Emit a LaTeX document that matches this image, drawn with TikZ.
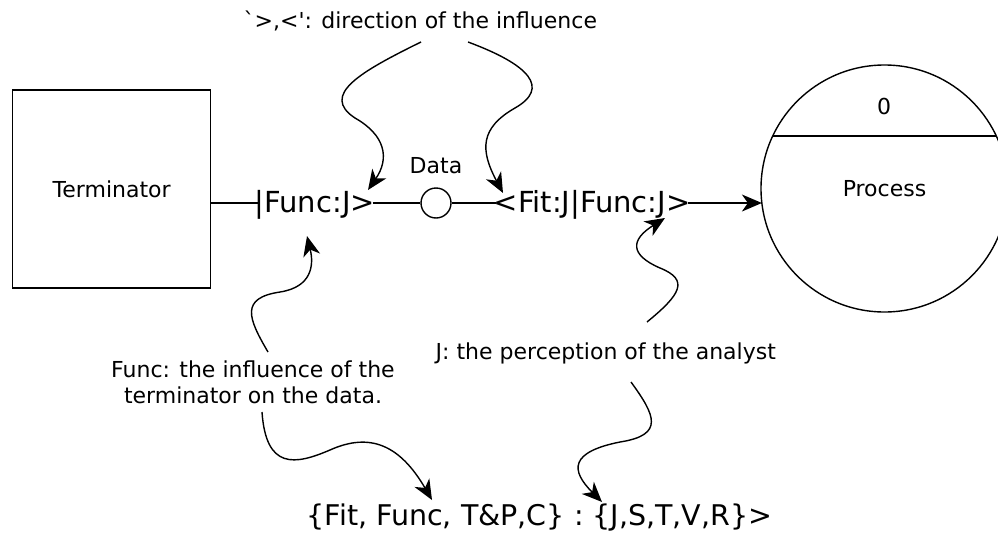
\documentclass[tikz,border=0pt]{standalone}
\usepackage{fontspec}
\setmainfont{DejaVu Sans}[Ligatures=TeXOff]
\usetikzlibrary{arrows.meta}
\tikzset{
  pointer/.style={arrows={-Stealth[length=20pt, width=17pt, inset=6pt]}},
  small/.style={font=\fontsize{22}{26}\selectfont, inner sep=0pt},
  big/.style={font=\fontsize{29}{33}\selectfont, inner sep=0pt},
  bottom/.style={font=\fontsize{28.5}{33}\selectfont, inner sep=0pt},
  wiggle/.style={pointer, line width=1.4pt},
}
\begin{document}
\begin{tikzpicture}[x=1pt, y=-1pt, line width=1.4pt]
\useasboundingbox (0,0) rectangle (998,541);
\clip (0,0) rectangle (998,541);

% terminator and process
\node[draw, small, minimum width=198pt, minimum height=198pt] (term) at (111.7,189) {Terminator};
\node[draw, circle, small, minimum size=247pt] (proc) at (884.5,188.5) {Process};
\draw ([shift={(-111.8,-52.5)}]proc.center) -- ([shift={(111.8,-52.5)}]proc.center);
\node[small] (num) at (884,106) {0};

% data flow with its influence labels
\node[draw, circle, minimum size=30pt, inner sep=0pt] (datac) at (436,203) {};
\node[small, anchor=base] (datal) at (436,173) {Data};
\node[big, anchor=base west] (func1) at (254,212) {|Func:J>};
\node[big, anchor=base west] (fit) at (493,212) {<Fit:J|Func:J>};
\coordinate (pin) at ([shift={(-122.6,14.5)}]proc.center);

\draw (term.east |- datac) -- ([xshift=4.5pt]func1.west |- datac);
\draw ([xshift=-3pt]func1.east |- datac) -- (datac.west);
\draw (datac.east) -- ([xshift=3pt]fit.west |- datac);
\draw[pointer] ([xshift=-3pt]fit.east |- datac) -- (pin);

% explanations
\node[small, anchor=base west] (toptxt) at (243,28) {`>,<': direction of the influence};
\node[small, align=center] (functxt) at (253,382.6) {Func: the influence of the\\terminator on the data.};
\node[small, anchor=base west] (jtxt) at (435,359) {J: the perception of the analyst};
\node[bottom, anchor=base east] (bottxt) at (773,525) {\{Fit, Func, T\&P,C\} : \{J,S,T,V,R\}>};

% wiggly pointers
\coordinate (a0) at (421,42);  \coordinate (a1) at (368,190);
\coordinate (b0) at (468,42);  \coordinate (b1) at (503,193);
\coordinate (c0) at (268,352); \coordinate (c1) at (307,236);
\coordinate (d0) at (262,412); \coordinate (d1) at (432,500);
\coordinate (e0) at (647,322); \coordinate (e1) at (665,218);
\coordinate (f0) at (631,382); \coordinate (f1) at (602,502);

\draw[wiggle] (a0) .. controls (360,72) and (320,95) .. (355,118)
                   .. controls (385,135) and (390,158) .. (a1);
\draw[wiggle] (b0) .. controls (530,65) and (550,88) .. (515,108)
                   .. controls (480,128) and (480,150) .. (b1);
\draw[wiggle] (c0) .. controls (248,318) and (240,298) .. (280,292)
                   .. controls (312,287) and (314,265) .. (c1);
\draw[wiggle] (d0) .. controls (266,470) and (295,465) .. (330,450)
                   .. controls (370,432) and (400,445) .. (d1);
\draw[wiggle] (e0) .. controls (680,295) and (690,280) .. (660,268)
                   .. controls (630,255) and (630,240) .. (e1);
\draw[wiggle] (f0) .. controls (655,415) and (665,435) .. (620,442)
                   .. controls (570,452) and (570,470) .. (f1);
\end{tikzpicture}
\end{document}
